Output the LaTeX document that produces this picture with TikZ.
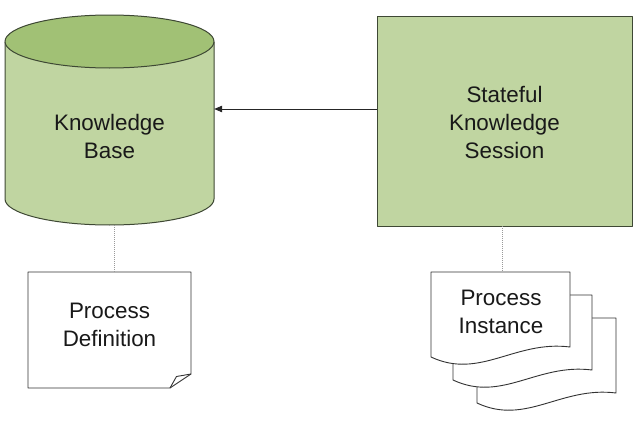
\documentclass[tikz,border=0pt]{standalone}
\usepackage{fontspec}
\setmainfont{Liberation Sans}
\usetikzlibrary{arrows.meta}
\definecolor{bodyg}{RGB}{192,213,161}
\definecolor{topg}{RGB}{161,193,117}
\definecolor{edgeg}{RGB}{62,72,52}
\definecolor{txt}{RGB}{25,25,25}
\tikzset{
  shapeline/.style={draw=edgeg, line width=1pt, line join=round},
  docline/.style={draw=black!80, line width=0.9pt, fill=white, line join=round},
  lbl/.style={align=center, text=txt, font=\fontsize{22.4}{28}\selectfont, inner sep=0pt},
  dotcon/.style={draw=black!40, line width=0.8pt, dash pattern=on 1pt off 1pt},
  arr/.style={draw=black!85, line width=0.9pt, -{Triangle[length=8pt,width=6.5pt]}},
}
\begin{document}
\begin{tikzpicture}[x=1pt,y=-1pt]
\useasboundingbox (0,0) rectangle (641,423);
% Knowledge Base cylinder
\path[fill=bodyg] (5,41.5) -- (5,199) arc[start angle=180,end angle=0,x radius=104.5,y radius=26] -- (214,41.5) -- cycle;
\draw[shapeline] (5,41.5) -- (5,199) arc[start angle=180,end angle=0,x radius=104.5,y radius=26] -- (214,41.5);
\draw[shapeline, fill=topg] (109.5,41.5) ellipse[x radius=104.5, y radius=26.5];
\node[lbl, minimum width=209, minimum height=178] (kb) at (109.5,136) {Knowledge\\Base};
% Stateful Knowledge Session
\node[shapeline, fill=bodyg, minimum width=255, minimum height=210, inner sep=0pt] (sksbox) at (504.5,121) {};
\node[lbl] (sks) at (504.5,122) {Stateful\\Knowledge\\Session};
% Process Definition
\draw[docline] (28,272) -- (191,272) -- (191,374) -- (170,388) -- (28,388) -- cycle;
\draw[docline, fill=none] (170,388) -- (176.5,376.5) -- (191,374);
\node[lbl, minimum width=163, minimum height=116] (pd) at (109.5,325) {Process\\Definition};
\coordinate (pdtop) at (114,272);
\coordinate (kbbot) at (114,225);
% Process Instance (multi-document)
\foreach \dx/\dy in {46/46, 22/23, 0/0} {
  \draw[docline] ({431+\dx},{272+\dy}) -- ({570+\dx},{272+\dy}) -- ({570+\dx},{347+\dy})
     .. controls ({515+\dx},{340+\dy}) and ({480+\dx},{380+\dy}) .. ({431+\dx},{357+\dy}) -- cycle;
}
\node[lbl, minimum width=139, minimum height=75] (pi) at (501,311.5) {Process\\Instance};
\coordinate (pitop) at (502,272);
\coordinate (sksbot) at (502,226);
% connectors
\draw[arr] ([yshift=12pt]sksbox.west) coordinate (a) -- (a -| kb.east);
\draw[dotcon] (kbbot) -- (pdtop);
\draw[dotcon] (sksbot) -- (pitop);
\end{tikzpicture}
\end{document}
